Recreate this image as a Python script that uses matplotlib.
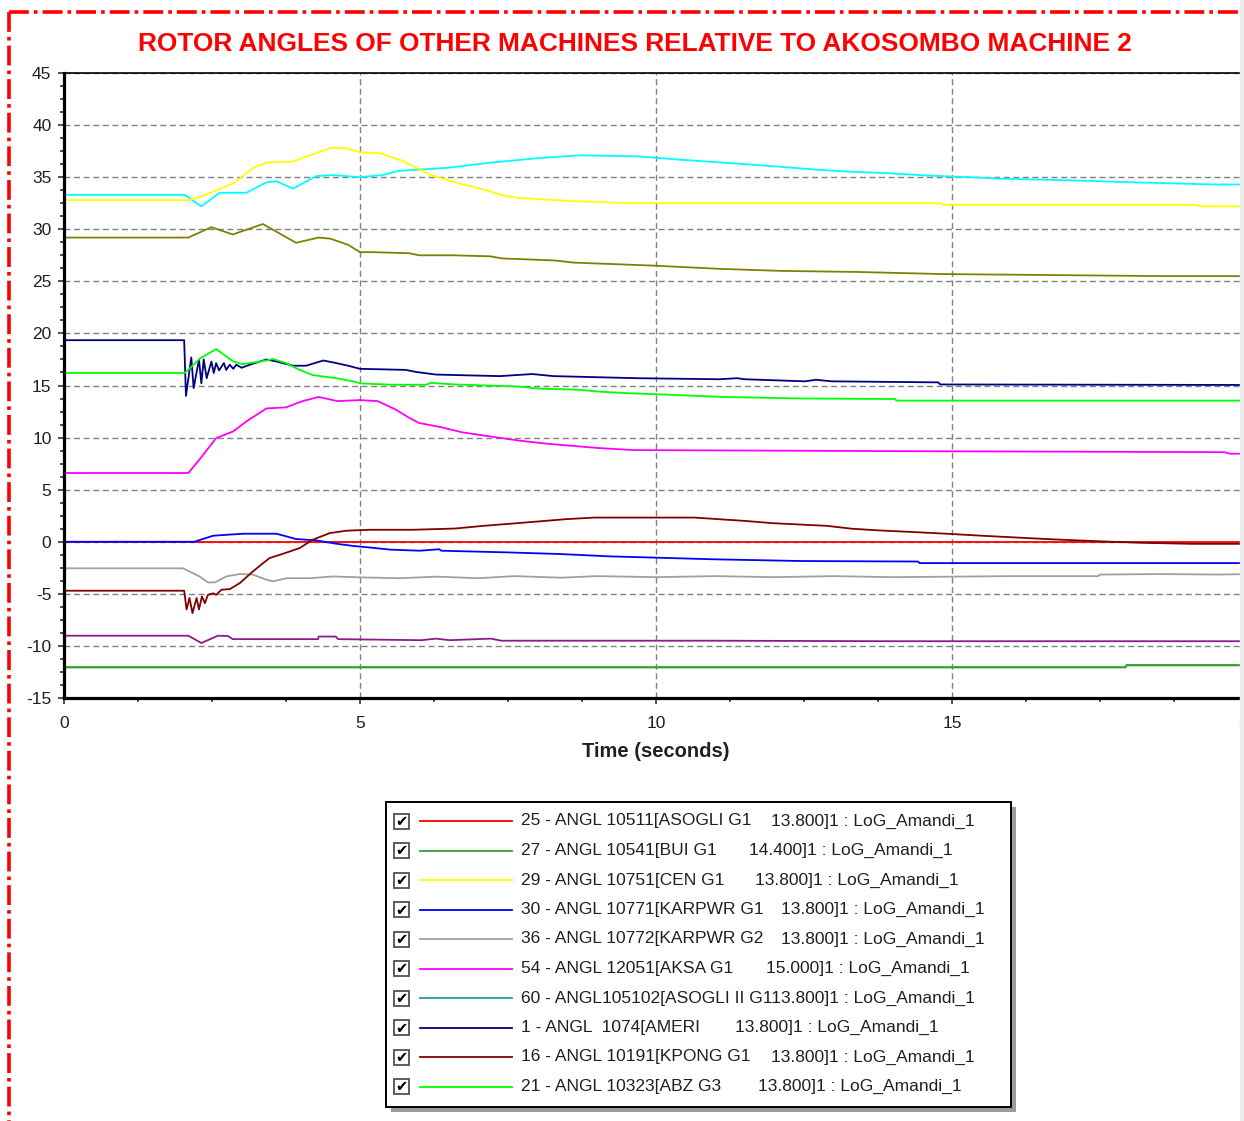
import matplotlib
matplotlib.use("Agg")
import matplotlib.pyplot as plt
from matplotlib.lines import Line2D
from matplotlib.patches import Rectangle
from matplotlib.ticker import AutoMinorLocator

plt.rcParams["axes.unicode_minus"] = False

# ---- series (time s, angle deg) ----
t_asogli = [0, 20]
v_asogli = [0, 0]

t_bui = [0, 17.93, 17.95, 20]
v_bui = [-12.05, -12.05, -11.85, -11.85]

t_cen = [0, 2.1, 2.3, 2.86, 3.2, 3.42, 3.87, 4.26, 4.5, 4.75, 5.0, 5.34, 5.7, 6.2,
         6.67, 7.1, 7.45, 7.7, 8.3, 8.6, 9.6, 14.8, 14.85, 19.1, 19.2, 20]
v_cen = [32.8, 32.8, 33.1, 34.4, 35.9, 36.4, 36.5, 37.3, 37.8, 37.8, 37.4, 37.3, 36.6, 35.2,
         34.4, 33.8, 33.2, 33.0, 32.8, 32.7, 32.5, 32.5, 32.35, 32.35, 32.2, 32.2]

t_karp1 = [0, 2.2, 2.52, 3.02, 3.59, 3.76, 3.92, 4.26, 4.6, 4.88, 5.16, 5.52, 6.01, 6.34,
           6.37, 7.48, 8.39, 9.2, 10.02, 11.01, 12.46, 14.43, 14.45, 20]
v_karp1 = [0, 0, 0.58, 0.77, 0.77, 0.51, 0.26, 0.13, -0.19, -0.4, -0.55, -0.76, -0.86, -0.72,
           -0.86, -1.02, -1.18, -1.4, -1.53, -1.69, -1.85, -1.9, -2.05, -2.05]

t_karp2 = [0, 2.01, 2.29, 2.43, 2.55, 2.74, 2.97, 3.19, 3.42, 3.53, 3.76, 4.15, 4.54, 5.0,
           5.67, 6.3, 7.0, 7.6, 8.4, 9.0, 10.0, 11.0, 12.0, 13.0, 14.0, 15.0, 16.0, 17.47,
           17.5, 18.5, 19.5, 20]
v_karp2 = [-2.55, -2.55, -3.33, -3.9, -3.9, -3.33, -3.1, -3.15, -3.65, -3.8, -3.5, -3.5, -3.33, -3.42,
           -3.5, -3.35, -3.5, -3.3, -3.45, -3.3, -3.4, -3.3, -3.4, -3.3, -3.4, -3.35, -3.3, -3.3,
           -3.15, -3.1, -3.15, -3.1]

t_aksa = [0, 2.1, 2.29, 2.57, 2.86, 3.08, 3.42, 3.75, 4.03, 4.3, 4.62, 5.0, 5.3, 5.6, 5.83,
          6.0, 6.37, 6.73, 7.21, 7.7, 8.18, 9.02, 9.62, 14.0, 19.6, 19.7, 20]
v_aksa = [6.6, 6.6, 7.9, 9.95, 10.6, 11.55, 12.8, 12.9, 13.5, 13.9, 13.5, 13.6, 13.5, 12.7, 11.9,
          11.4, 11.0, 10.5, 10.1, 9.7, 9.4, 9.0, 8.8, 8.7, 8.6, 8.45, 8.45]

t_ameri = [0, 2.03, 2.06, 2.15, 2.19, 2.28, 2.32, 2.36, 2.41, 2.49, 2.53, 2.57, 2.62, 2.70,
           2.74, 2.80, 2.86, 2.91, 3.0, 3.14, 3.42, 3.59, 3.87, 4.09, 4.38, 4.56, 4.8, 5.0,
           5.77, 5.95, 6.28, 7.36, 7.91, 8.27, 9.69, 11.07, 11.37, 11.5, 12.52, 12.7, 12.97,
           14.77, 14.8, 20]
v_ameri = [19.35, 19.35, 14.0, 17.7, 14.75, 17.5, 15.2, 17.5, 15.7, 17.3, 16.2, 17.15, 16.45, 17.15,
           16.5, 17.0, 16.6, 17.0, 16.7, 17.0, 17.5, 17.3, 16.9, 16.9, 17.4, 17.2, 16.9, 16.6,
           16.5, 16.3, 16.05, 15.9, 16.1, 15.9, 15.7, 15.6, 15.7, 15.6, 15.4, 15.55, 15.4,
           15.3, 15.1, 15.05]

t_kpong = [0, 2.03, 2.07, 2.12, 2.17, 2.24, 2.28, 2.33, 2.38, 2.43, 2.52, 2.57, 2.66, 2.8,
           2.97, 3.19, 3.47, 3.7, 3.98, 4.2, 4.49, 4.77, 5.16, 5.89, 6.61, 7.09, 7.58, 8.06,
           8.48, 8.96, 10.65, 11.5, 11.98, 12.88, 13.31, 13.76, 14.35, 14.91, 15.5, 16.18,
           16.74, 17.55, 18.2, 19.07, 20]
v_kpong = [-4.7, -4.7, -6.5, -5.4, -6.85, -5.4, -6.5, -5.25, -5.9, -5.1, -4.95, -5.1, -4.6, -4.55,
           -3.97, -2.85, -1.57, -1.15, -0.61, 0.19, 0.83, 1.06, 1.15, 1.15, 1.27, 1.53, 1.75, 1.97,
           2.17, 2.32, 2.32, 2.0, 1.78, 1.53, 1.25, 1.09, 0.93, 0.77, 0.58, 0.38,
           0.22, 0.03, -0.1, -0.2, -0.2]

t_abz = [0, 2.04, 2.3, 2.57, 2.86, 3.02, 3.42, 3.53, 3.75, 3.98, 4.2, 4.6, 4.88, 5.02, 5.55,
         6.12, 6.19, 6.61, 7.67, 8.03, 8.66, 9.08, 9.57, 10.29, 11.13, 12.49, 14.04, 14.06, 20]
v_abz = [16.2, 16.2, 17.6, 18.5, 17.3, 17.05, 17.4, 17.55, 17.15, 16.5, 16.0, 15.7, 15.4, 15.2, 15.07,
         15.07, 15.25, 15.1, 14.9, 14.7, 14.6, 14.4, 14.25, 14.1, 13.9, 13.75, 13.7, 13.55, 13.55]

# curves on the plot that are not shown in the (scrolled) legend
t_cyan = [0, 2.04, 2.32, 2.63, 3.08, 3.42, 3.59, 3.87, 4.26, 4.54, 5.0, 5.38, 5.65, 6.49, 7.21,
          8.06, 8.72, 9.69, 10.35, 11.13, 11.98, 12.76, 13.37, 13.87, 14.6, 15.28, 15.84, 16.96,
          18.1, 19.4, 20]
v_cyan = [33.3, 33.3, 32.2, 33.5, 33.5, 34.5, 34.6, 33.9, 35.1, 35.2, 35.0, 35.2, 35.6, 35.9, 36.4,
          36.85, 37.1, 37.0, 36.7, 36.4, 36.05, 35.7, 35.5, 35.4, 35.15, 35.0, 34.85, 34.7,
          34.5, 34.3, 34.3]

t_olive = [0, 2.1, 2.49, 2.85, 3.36, 3.92, 4.3, 4.5, 4.8, 5.0, 5.22, 5.83, 6.0, 6.56, 7.2, 7.4,
           8.3, 8.6, 9.3, 9.99, 11.07, 12.13, 13.4, 14.83, 18.6, 20]
v_olive = [29.2, 29.2, 30.2, 29.5, 30.5, 28.7, 29.2, 29.1, 28.5, 27.8, 27.8, 27.7, 27.5, 27.5, 27.4, 27.2,
           27.0, 26.8, 26.65, 26.5, 26.2, 26.0, 25.9, 25.7, 25.5, 25.5]

t_purple = [0, 2.1, 2.32, 2.6, 2.77, 2.85, 4.29, 4.3, 4.59, 4.63, 6.04, 6.28, 6.52, 7.21, 7.39, 11.0, 14.0, 20]
v_purple = [-9.02, -9.02, -9.72, -9.02, -9.05, -9.35, -9.35, -9.1, -9.1, -9.35, -9.45, -9.3, -9.45, -9.3,
            -9.5, -9.5, -9.55, -9.55]

legend_left = ["25 - ANGL 10511[ASOGLI G1", "27 - ANGL 10541[BUI G1", "29 - ANGL 10751[CEN G1",
               "30 - ANGL 10771[KARPWR G1", "36 - ANGL 10772[KARPWR G2", "54 - ANGL 12051[AKSA G1",
               "60 - ANGL105102[ASOGLI II G113.800]1 : LoG_Amandi_1", "1 - ANGL  1074[AMERI",
               "16 - ANGL 10191[KPONG G1", "21 - ANGL 10323[ABZ G3"]
legend_right = ["13.800]1 : LoG_Amandi_1", "14.400]1 : LoG_Amandi_1", "13.800]1 : LoG_Amandi_1",
                "13.800]1 : LoG_Amandi_1", "13.800]1 : LoG_Amandi_1", "15.000]1 : LoG_Amandi_1",
                "", "13.800]1 : LoG_Amandi_1", "13.800]1 : LoG_Amandi_1", "13.800]1 : LoG_Amandi_1"]
legend_colors = ["#ff0000", "#30a030", "#ffff00", "#0000ff", "#a0a0a0", "#ff00ff",
                 "#20a0a0", "#000080", "#800000", "#00ff00"]

W, H = 1244, 1121
fig = plt.figure(figsize=(W / 100, H / 100), dpi=100)

def fx(px):
    return px / W

def fy(py):
    return 1 - py / H

ax = fig.add_axes([fx(64), fy(698), fx(1248 - 64), (698 - 73) / H])

ax.plot(t_cyan, v_cyan, color="#00ffff", lw=1.3)
ax.plot(t_olive, v_olive, color="#808000", lw=1.3)
ax.plot(t_purple, v_purple, color="#8b1a8b", lw=1.3)
ax.plot(t_asogli, v_asogli, color=legend_colors[0], lw=1.3)
ax.plot(t_bui, v_bui, color=legend_colors[1], lw=1.6)
ax.plot(t_cen, v_cen, color=legend_colors[2], lw=1.3)
ax.plot(t_karp1, v_karp1, color=legend_colors[3], lw=1.3)
ax.plot(t_karp2, v_karp2, color=legend_colors[4], lw=1.3)
ax.plot(t_aksa, v_aksa, color=legend_colors[5], lw=1.3)
ax.plot(t_ameri, v_ameri, color=legend_colors[7], lw=1.3)
ax.plot(t_kpong, v_kpong, color=legend_colors[8], lw=1.3)
ax.plot(t_abz, v_abz, color=legend_colors[9], lw=1.3)

ax.set_xlim(0, 20)
ax.set_ylim(-15, 45)
ax.set_xticks([0, 5, 10, 15, 20])
ax.set_yticks(range(-15, 50, 5))
ax.xaxis.set_minor_locator(AutoMinorLocator(4))
ax.yaxis.set_minor_locator(AutoMinorLocator(4))
ax.grid(True, which="major", color="#808080", lw=1.0, linestyle=(0, (4.3, 2.6)))
ax.set_axisbelow(True)

ax.spines["left"].set_linewidth(2.3)
ax.spines["bottom"].set_linewidth(2.3)
ax.spines["top"].set_linewidth(1.2)
ax.spines["right"].set_visible(False)

ax.tick_params(axis="both", which="both", direction="out", colors="#202020", width=1.1)
ax.tick_params(axis="both", which="major", length=4)
ax.tick_params(axis="both", which="minor", length=3)
ax.tick_params(axis="x", pad=9)
ax.tick_params(axis="y", pad=5)
for lab in ax.get_xticklabels() + ax.get_yticklabels():
    lab.set_fontfamily("Liberation Sans")
    lab.set_fontsize(12.5)

ax.set_xlabel("Time (seconds)", fontsize=14.5, fontweight="bold",
              family="Liberation Sans", color="#202020", labelpad=8)

fig.text(fx(635), fy(44), "ROTOR ANGLES OF OTHER MACHINES RELATIVE TO AKOSOMBO MACHINE 2",
         color="#ff0000", fontsize=18.9, fontweight="bold", family="Liberation Sans",
         ha="center", va="center")

# dash-dot frame round the chart (only top and left edges are in view)
frame_kw = dict(color="#ff0000", lw=2.6, dashes=(5.5, 1.4, 1.0, 1.4),
                transform=fig.transFigure)
fig.add_artist(Line2D([fx(9), fx(1240)], [fy(12), fy(12)], **frame_kw))
fig.add_artist(Line2D([fx(9), fx(9)], [fy(12), 0], **frame_kw))
fig.add_artist(Rectangle((fx(1240), 0), fx(6), 1, transform=fig.transFigure,
                         color="#ebebeb", zorder=10))

# legend box drawn in pixel coordinates
lax = fig.add_axes([fx(380), fy(1116), fx(1020 - 380), (1116 - 796) / H])
lax.set_xlim(380, 1020)
lax.set_ylim(1116, 796)
lax.axis("off")
lax.add_patch(Rectangle((391, 807), 625, 305, color="#9a9a9a", lw=0))
lax.add_patch(Rectangle((386, 802), 625, 305, facecolor="white", edgecolor="black", lw=1.4))

right_x = [771, 749, 755, 781, 781, 766, 0, 735, 771, 758]
row_y0 = 821
row_dy = 29.5
for i in range(len(legend_left)):
    y = row_y0 + i * row_dy
    lax.add_patch(Rectangle((394, y - 7.5), 15, 15, facecolor="white",
                            edgecolor="#505050", lw=1.3))
    lax.text(401.5, y + 0.5, "\u2714", family="DejaVu Sans", fontsize=10.5,
             ha="center", va="center", color="black")
    lax.plot([420, 512], [y, y], color=legend_colors[i], lw=1.3)
    lax.text(521, y, legend_left[i], family="Liberation Sans", fontsize=12.5,
             ha="left", va="center", color="#202020")
    if legend_right[i]:
        lax.text(right_x[i], y, legend_right[i], family="Liberation Sans", fontsize=12.5,
                 ha="left", va="center", color="#202020")

fig.savefig("out.png", dpi=100)
